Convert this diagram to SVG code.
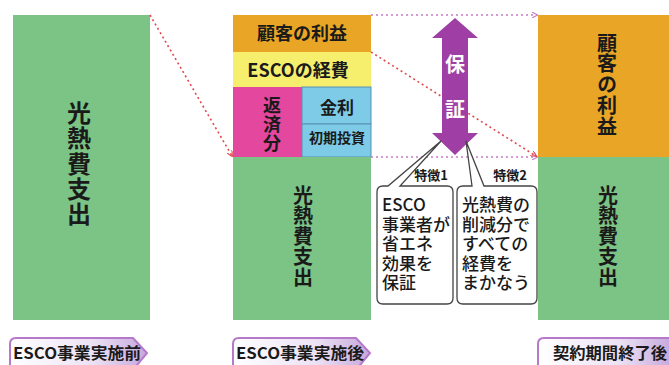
<svg xmlns="http://www.w3.org/2000/svg" width="669" height="365" viewBox="0 0 669 365">
<style>
.t{font-family:"Noto Sans CJK JP","Liberation Sans",sans-serif;font-weight:bold;fill:#1a1a1a}
.vt{font-family:"Noto Sans CJK JP",sans-serif;font-weight:bold;fill:#1a1a1a;writing-mode:vertical-rl;text-orientation:upright}
.g{fill:#7cc485}
.o{fill:#e9a626}
.dotp{stroke:#c77bc8;stroke-width:1.6;stroke-dasharray:2 3;fill:none}
.dotr{stroke:#e2474c;stroke-width:1.6;stroke-dasharray:2 3;fill:none}
.call{fill:#fff;stroke:#444;stroke-width:1.3}
.tab{fill:url(#tg);stroke:#b679c9;stroke-width:2}
.bt{font-family:"Noto Sans CJK JP","Liberation Sans",sans-serif;font-weight:500;fill:#1a1a1a}
</style>
<defs>
<linearGradient id="tg" x1="0" y1="0" x2="1" y2="0">
<stop offset="0" stop-color="#ffffff"/>
<stop offset="0.6" stop-color="#ece2f5"/>
<stop offset="1" stop-color="#c6a8dc"/>
</linearGradient>
<marker id="ap" viewBox="0 0 8 8" refX="7" refY="4" markerWidth="6" markerHeight="6" orient="auto" markerUnits="userSpaceOnUse">
<path d="M0,0 L8,4 L0,8" fill="none" stroke="#c77bc8" stroke-width="1.5"/>
</marker>
<marker id="ar" viewBox="0 0 8 8" refX="7" refY="4" markerWidth="6" markerHeight="6" orient="auto" markerUnits="userSpaceOnUse">
<path d="M0,0 L8,4 L0,8" fill="none" stroke="#e2474c" stroke-width="1.5"/>
</marker>
</defs>
<rect width="669" height="365" fill="#ffffff"/>

<g id="before">
<rect class="g" x="13" y="15" width="137" height="305"/>
<text class="vt" x="79" y="101" font-size="24" letter-spacing="1.3">光熱費支出</text>
</g>

<g id="after">
<rect class="o" x="233" y="15" width="138" height="37"/>
<text class="t" x="302" y="40" font-size="18" text-anchor="middle">顧客の利益</text>
<rect x="233" y="52" width="138" height="35" fill="#f6ef6e"/>
<text class="t" x="298" y="77" font-size="18" text-anchor="middle">ESCOの経費</text>
<rect x="233" y="87" width="69" height="70" fill="#e3479e"/>
<text class="vt" x="272" y="96" font-size="18" letter-spacing="1">返済分</text>
<rect x="302" y="87" width="69" height="37" fill="#7dcbe7" stroke="#5b8fb3" stroke-width="1"/>
<text class="t" x="337" y="114" font-size="17" text-anchor="middle">金利</text>
<rect x="302" y="124" width="69" height="33" fill="#7dcbe7" stroke="#5b8fb3" stroke-width="1"/>
<text class="t" x="337" y="143" font-size="14" text-anchor="middle">初期投資</text>
<rect class="g" x="233" y="157" width="138" height="163"/>
<text class="vt" x="303" y="185" font-size="20" letter-spacing="0.5">光熱費支出</text>
</g>

<g id="end">
<rect class="o" x="538" y="15" width="131" height="142"/>
<text class="vt" x="607" y="33" font-size="20" letter-spacing="0.8">顧客の利益</text>
<rect class="g" x="538" y="157" width="131" height="163"/>
<text class="vt" x="608" y="185" font-size="20" letter-spacing="0.5">光熱費支出</text>
</g>

<g id="connectors">
<line class="dotr" x1="150" y1="15" x2="232" y2="156" marker-end="url(#ar)"/>
<line class="dotp" x1="371" y1="15" x2="537" y2="15" marker-end="url(#ap)"/>
<line class="dotp" x1="371" y1="157" x2="537" y2="157" marker-end="url(#ap)"/>
<line class="dotr" x1="371" y1="52" x2="536" y2="156" marker-end="url(#ar)"/>
</g>

<g id="guarantee">
<path d="M455,18 L478,38 L468,38 L468,133 L478,133 L455,155 L432,133 L442,133 L442,38 L432,38 Z" fill="#9f3ea4"/>
<text x="455" y="72" font-family="Noto Sans CJK JP, sans-serif" font-weight="bold" font-size="20" fill="#ffffff" text-anchor="middle">保</text>
<text x="455" y="117" font-family="Noto Sans CJK JP, sans-serif" font-weight="bold" font-size="20" fill="#ffffff" text-anchor="middle">証</text>
</g>

<g id="feature1">
<path class="call" d="M383,186 L388,186 L441,141 L400,186 L447,186 Q453,186 453,192 L453,298 Q453,304 447,304 L383,304 Q377,304 377,298 L377,192 Q377,186 383,186 Z"/>
<text class="t" x="431" y="180" font-size="13" text-anchor="middle">特徴1</text>
<text class="bt" font-size="17"><tspan x="382" y="211">ESCO</tspan><tspan x="382" y="230.5">事業者が</tspan><tspan x="382" y="250">省エネ</tspan><tspan x="382" y="269.5">効果を</tspan><tspan x="382" y="289">保証</tspan></text>
</g>

<g id="feature2">
<path class="call" d="M463,186 L472,186 L466,141 L484,186 L531,186 Q537,186 537,192 L537,298 Q537,304 531,304 L463,304 Q457,304 457,298 L457,192 Q457,186 463,186 Z"/>
<text class="t" x="510" y="180" font-size="13" text-anchor="middle">特徴2</text>
<text class="bt" font-size="17"><tspan x="462" y="211">光熱費の</tspan><tspan x="462" y="230.5">削減分で</tspan><tspan x="462" y="250">すべての</tspan><tspan x="462" y="269.5">経費を</tspan><tspan x="462" y="289">まかなう</tspan></text>
</g>

<g id="tab-before">
<path class="tab" d="M16,338 L133,338 L147,353 L133,370 L16,370 Q10,370 10,364 L10,344 Q10,338 16,338 Z"/>
<text class="t" x="13" y="359" font-size="16" textLength="128" lengthAdjust="spacingAndGlyphs">ESCO事業実施前</text>
</g>
<g id="tab-after">
<path class="tab" d="M239,338 L356,338 L370,353 L356,370 L239,370 Q233,370 233,364 L233,344 Q233,338 239,338 Z"/>
<text class="t" x="236" y="359" font-size="16" textLength="128" lengthAdjust="spacingAndGlyphs">ESCO事業実施後</text>
</g>
<g id="tab-end">
<path class="tab" d="M544,338 L672,338 L672,370 L544,370 Q538,370 538,364 L538,344 Q538,338 544,338 Z"/>
<text class="t" x="553" y="359" font-size="16" textLength="114" lengthAdjust="spacingAndGlyphs">契約期間終了後</text>
</g>
</svg>
